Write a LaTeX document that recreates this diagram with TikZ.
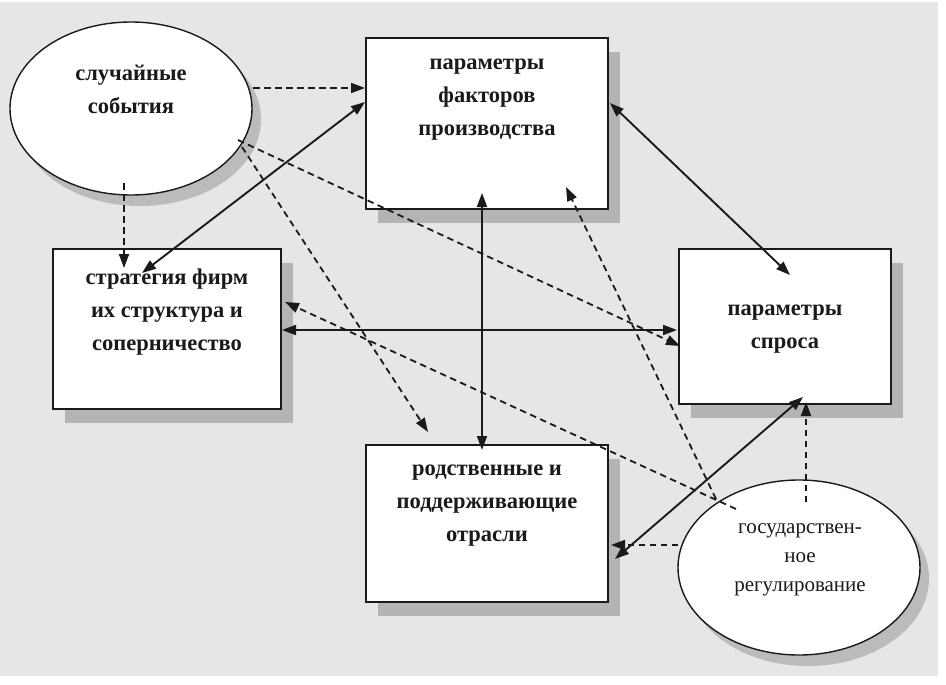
\documentclass[tikz,border=0pt]{standalone}
\usepackage{fontspec}
\setmainfont{Liberation Serif}
\usetikzlibrary{arrows.meta,shapes.geometric,shadows}
\definecolor{bg}{HTML}{E6E6E6}
\definecolor{shd}{HTML}{B4B4B4}
\definecolor{ink}{HTML}{1A1A1A}
\begin{document}
\begin{tikzpicture}[x=1pt,y=-1pt,
  box/.style={draw=ink,line width=1.8pt,fill=white,rectangle,inner sep=0pt,
    drop shadow={shadow xshift=12pt,shadow yshift=-14pt,fill=shd,opacity=1}},
  oval/.style={draw=ink,line width=1.4pt,fill=white,ellipse,inner sep=0pt,
    drop shadow={shadow xshift=9pt,shadow yshift=-11pt,fill=shd,opacity=0.85}},
  txt/.style={font=\fontsize{22.5}{33}\selectfont\bfseries,align=center,text=ink,inner sep=0pt},
  txtr/.style={font=\fontsize{21}{29}\selectfont,align=center,text=ink,inner sep=0pt},
  con/.style={line width=1.9pt,draw=ink},
  dsh/.style={con,line width=1.8pt,dash pattern=on 6.5pt off 4.5pt},
  tip/.style={-{Triangle[length=14pt,width=10pt]}},
  both/.style={{Triangle[length=14pt,width=10pt]}-{Triangle[length=14pt,width=10pt]}},
]
\useasboundingbox (0,0) rectangle (946,685);
\fill[white] (0,0) rectangle (946,685);
\fill[bg] (0,2) rectangle (938,676);

% nodes
\node[oval,minimum width=242pt,minimum height=173pt] (e1) at (131,108.5) {};
\node[box,minimum width=242pt,minimum height=171pt] (b1) at (487,123.5) {};
\node[box,minimum width=228pt,minimum height=160pt] (b2) at (167,329) {};
\node[box,minimum width=212pt,minimum height=155pt] (b3) at (785,326.5) {};
\node[box,minimum width=242pt,minimum height=157pt] (b4) at (487,523.5) {};
\node[oval,minimum width=242pt,minimum height=175pt] (e2) at (799,567.5) {};

% connector end points
\coordinate (e1r) at (253,88);   \coordinate (b1l1) at (365,88);
\coordinate (b2a) at (142,273);  \coordinate (b1l2) at (365,102);
\coordinate (e1b) at (124,183);  \coordinate (b2t) at (124,268);
\coordinate (e1c) at (238,140);  \coordinate (b3l) at (680,346);
\coordinate (e1d) at (242,147);  \coordinate (b4t) at (428,432);
\coordinate (b2r) at (282,330);  \coordinate (b3l2) at (677,330);
\coordinate (e2a) at (736,509);  \coordinate (b2r2) at (285,302);
\coordinate (b1b) at (482,193);  \coordinate (b4t2) at (482,450);
\coordinate (b1r) at (610,103);  \coordinate (b3t) at (790,275);
\coordinate (e2b) at (716,499);  \coordinate (b1b2) at (566,187);
\coordinate (b4r) at (615,559);  \coordinate (b3b) at (803,397);
\coordinate (e2l) at (678,545);  \coordinate (b4r2) at (611,545);
\coordinate (e2t) at (806,502);  \coordinate (b3b2) at (806,402);

% connectors
\draw[dsh,tip] (e1r) -- (b1l1);
\draw[con,both] (b2a) -- (b1l2);
\draw[dsh,tip] (e1b) -- (b2t);
\draw[dsh,tip] (e1c) -- (b3l);
\draw[dsh,tip] (e1d) -- (b4t);
\draw[con,both] (b2r) -- (b3l2);
\draw[dsh,tip] (e2a) -- (b2r2);
\draw[con,both] (b1b) -- (b4t2);
\draw[con,both] (b1r) -- (b3t);
\draw[dsh,tip] (e2b) -- (b1b2);
\draw[con,both] (b4r) -- (b3b);
\draw[dsh,tip] (e2l) -- (b4r2);
\draw[dsh,tip] (e2t) -- (b3b2);

% texts
\node[txt] (t1) at (487,100) {параметры\\факторов\\производства};
\node[txt] (t2) at (167,312) {стратегия фирм\\их структура и\\соперничество};
\node[txt] (t3) at (785,329) {параметры\\спроса};
\node[txt] (t4) at (487,506) {родственные и\\поддерживающие\\отрасли};
\node[txt] (t5) at (131,89) {случайные\\события};
\node[txtr] (t6) at (800,560) {государствен-\\ное\\регулирование};
\end{tikzpicture}
\end{document}
